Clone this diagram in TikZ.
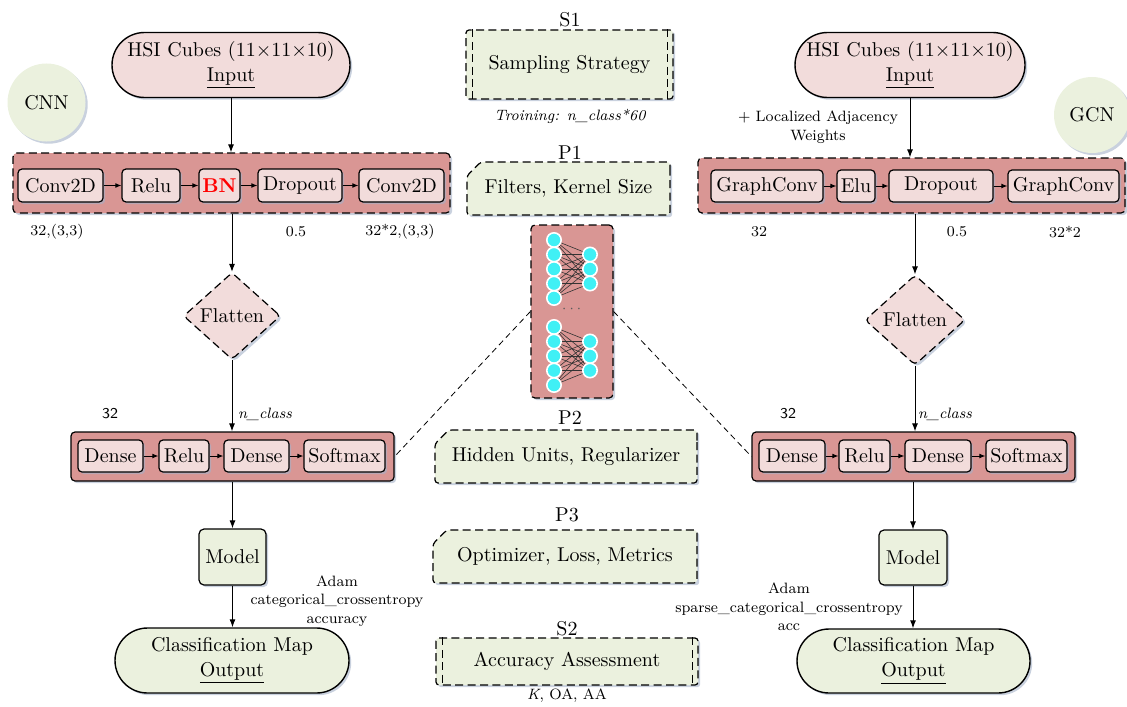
\documentclass[tikz,border=0pt]{standalone}
\usepackage{amsmath}
\usepackage{xcolor}
\usepackage{tikz}
\usetikzlibrary{
	arrows.meta,
	calc,
	positioning,
	shapes.geometric,
	shapes.misc,
	shadows
}
\definecolor{BoxPink}{RGB}{242,220,219}
\definecolor{RowRed}{RGB}{217,150,148}
\definecolor{PaleGreen}{RGB}{235,241,222}
\definecolor{NeuronCyan}{RGB}{64,240,245}
\definecolor{ShadowBlue}{RGB}{165,178,200}

\begin{document}
\begin{tikzpicture}[x=0.5pt, y=-0.5pt, font=\fontsize{10}{12.5}\selectfont,
	softshadow/.style={drop shadow={shadow xshift=1.1pt, shadow yshift=-1.1pt, fill=ShadowBlue, opacity=0.6}},
	dashpat/.style={dash pattern=on 4pt off 2.2pt, line width=0.6pt},
	terminal/.style={rounded rectangle, draw, line width=0.7pt, fill=BoxPink, align=center, inner sep=0pt, softshadow},
	layerbox/.style={draw, rounded corners=2pt, fill=BoxPink, line width=0.6pt, inner sep=0pt, minimum height=16.5pt, softshadow},
	rowbox/.style={draw, rounded corners=2pt, fill=RowRed, line width=0.6pt, inner sep=0pt, softshadow},
	dashrow/.style={rowbox, dashpat},
	procbox/.style={draw, dashpat, rounded corners=1.5pt, fill=PaleGreen, inner sep=0pt, softshadow},
	parambox/.style={chamfered rectangle, chamfered rectangle corners=north west, chamfered rectangle xsep=4pt, draw, dashpat, rounded corners=1.5pt, fill=PaleGreen, inner sep=0pt, softshadow},
	modelbox/.style={draw, rounded corners=2.5pt, fill=PaleGreen, line width=0.6pt, inner sep=0pt, softshadow},
	flat/.style={diamond, draw, dashpat, rounded corners=2pt, fill=BoxPink, inner sep=0pt, softshadow},
	netcircle/.style={circle, fill=PaleGreen, inner sep=0pt, minimum size=39pt, softshadow},
	neuron/.style={circle, fill=NeuronCyan, draw=white, line width=0.8pt, inner sep=0pt, minimum size=7.2pt},
	tag/.style={font=\fontsize{7.5}{9.25}\selectfont, align=center},
	tagit/.style={font=\fontsize{7.5}{9.25}\selectfont\itshape, align=center},
	tagsf/.style={font=\fontsize{7.5}{9.25}\selectfont\sffamily},
	link/.style={-{Latex[length=4pt,width=3pt]}, line width=0.5pt},
	smalllink/.style={-{Latex[length=3pt,width=2.4pt]}, line width=0.5pt}
]
	\useasboundingbox (0,0) rectangle (1127,706);

	% CNN branch
	\node[terminal, minimum width=119pt, minimum height=32.5pt] (inL) at (231,65) {HSI Cubes (11×11×10)\\\underline{Input}};
	\node[netcircle] (cnn) at (46.5,102.5) {CNN};
	\node[dashrow, minimum width=218.5pt, minimum height=30pt] (rowL) at (231.5,183) {};
	\node[layerbox, minimum width=42.5pt] (c1) at (60.5,185.5) {Conv2D};
	\node[layerbox, minimum width=29pt] (c2) at (151,185.5) {Relu};
	\node[layerbox, minimum width=20.5pt, text=red] (c3) at (219.5,185.5) {\textbf{BN}};
	\node[layerbox, minimum width=42pt] (c4) at (300,185.5) {Dropout};
	\node[layerbox, minimum width=42.5pt] (c5) at (401.5,185.5) {Conv2D};
	\foreach \a/\b in {c1/c2,c2/c3,c3/c4,c4/c5}
		\draw[smalllink] (\a) -- (\b);
	\node[tag] (kc1) at (57,232) {32,(3,3)};
	\node[tag] (kc4) at (296,232) {0.5};
	\node[tag] (kc5) at (400,232) {32*2,(3,3)};
	\draw[link] (inL.south) -- (inL.south |- rowL.north);

	\node[flat, minimum width=48.5pt, minimum height=43.5pt] (flL) at (232,316) {Flatten};
	\draw[link] (flL.north |- rowL.south) -- (flL.north);

	\node[rowbox, minimum width=161.5pt, minimum height=24.5pt] (dnL) at (232.5,456.5) {};
	\node[layerbox, minimum width=32.5pt, minimum height=16pt] (d1) at (110.5,456) {Dense};
	\node[layerbox, minimum width=25pt, minimum height=16pt] (d2) at (184,456) {Relu};
	\node[layerbox, minimum width=32.5pt, minimum height=16pt] (d3) at (256.5,456) {Dense};
	\node[layerbox, minimum width=40.5pt, minimum height=16pt] (d4) at (344.5,456) {Softmax};
	\foreach \a/\b in {d1/d2,d2/d3,d3/d4}
		\draw[smalllink] (\a) -- (\b);
	\node[tagsf] (kd1) at (110,414) {32};
	\node[tagit] (kd3) at (265,414) {n\_class};
	\draw[link] (flL.south) -- (flL.south |- dnL.north);

	\node[modelbox, minimum width=33.5pt, minimum height=28pt] (mdL) at (232.5,557) {Model};
	\node[terminal, minimum width=117pt, minimum height=32.5pt, fill=PaleGreen] (outL) at (232,660.5) {Classification Map\\\underline{Output}};
	\draw[link] (mdL.north |- dnL.south) -- (mdL.north);
	\draw[link] (mdL.south) -- (mdL.south |- outL.north);
	\node[tag] (cmpL) at (337,601) {Adam\\categorical\_crossentropy\\accuracy};

	% shared steps
	\node (s1lab) at (570,20) {S1};
	\node[procbox, minimum width=103.5pt, minimum height=34.5pt] (s1) at (569.5,64.5) {Sampling Strategy};
	\draw[dashpat] ($(s1.north west)+(3.5pt,0)$) -- ($(s1.south west)+(3.5pt,0)$);
	\draw[dashpat] ($(s1.north east)+(-3.2pt,0)$) -- ($(s1.south east)+(-3.2pt,0)$);
	\node[tagit] (s1note) at (570,116) {Troining: n\_class*60};

	\node (p1lab) at (570,153) {P1};
	\node[parambox, minimum width=101.5pt, minimum height=26.5pt] (p1) at (568.5,188.5) {Filters, Kernel Size};

	\node[dashrow, minimum width=41pt, minimum height=86.5pt] (nn) at (572,311.5) {};
	\foreach \i/\y in {1/240,2/254.5,3/269,4/283.5,5/298,6/327,7/341.5,8/356,9/370.5,10/385}
		\coordinate (na\i) at (554,\y);
	\foreach \j/\y in {1/254.5,2/269,3/283.5,4/341.5,5/356,6/370.5}
		\coordinate (nb\j) at (590,\y);
	\foreach \i in {1,...,5}
		\foreach \j in {1,2,3}
			\draw[line width=0.3pt, black!80] (na\i) -- (nb\j);
	\foreach \i in {6,...,10}
		\foreach \j in {4,5,6}
			\draw[line width=0.3pt, black!80] (na\i) -- (nb\j);
	\foreach \i in {1,...,10}
		\node[neuron] (ua\i) at (na\i) {};
	\foreach \j in {1,...,6}
		\node[neuron] (ub\j) at (nb\j) {};
	\node[font=\fontsize{7}{8}\selectfont, text=black!65] (gap) at (573,309) {$\cdots$};

	\node (p2lab) at (570,418) {P2};
	\node[parambox, minimum width=131pt, minimum height=26.5pt] (p2) at (566,456.5) {Hidden Units, Regularizer};
	\node (p3lab) at (567,515) {P3};
	\node[parambox, minimum width=132pt, minimum height=26.5pt] (p3) at (565,556.5) {Optimizer, Loss, Metrics};

	\node (s2lab) at (567,629) {S2};
	\node[procbox, minimum width=131pt, minimum height=23.5pt] (s2) at (567,661.5) {Accuracy Assessment};
	\draw[dashpat] ($(s2.north west)+(3.5pt,0)$) -- ($(s2.south west)+(3.5pt,0)$);
	\draw[dashpat] ($(s2.north east)+(-3.2pt,0)$) -- ($(s2.south east)+(-3.2pt,0)$);
	\node[tag] (s2note) at (567,696) {\textit{K}, OA, AA};

	% GCN branch
	\node[terminal, minimum width=115pt, minimum height=32.5pt] (inR) at (910,65) {HSI Cubes (11×11×10)\\\underline{Input}};
	\node[netcircle, minimum size=38pt] (gcn) at (1092,115) {GCN};
	\node[tag] (adj) at (818,127) {+ Localized Adjacency\\Weights};
	\node[dashrow, minimum width=213.5pt, minimum height=27.5pt] (rowR) at (911.5,185.5) {};
	\node[layerbox, minimum width=56pt, minimum height=16pt] (g1) at (767,186) {GraphConv};
	\node[layerbox, minimum width=19pt, minimum height=16pt] (g2) at (856,186) {Elu};
	\node[layerbox, minimum width=52pt, minimum height=16pt] (g3) at (941,186) {Dropout};
	\node[layerbox, minimum width=55.5pt, minimum height=16pt] (g4) at (1063.5,186) {GraphConv};
	\foreach \a/\b in {g1/g2,g2/g3,g3/g4}
		\draw[smalllink] (\a) -- (\b);
	\node[tag] (kg1) at (759,232) {32};
	\node[tag] (kg3) at (957,232) {0.5};
	\node[tag] (kg4) at (1065,232) {32*2};
	\draw[link] (inR.south) -- (inR.south |- rowR.north);

	\node[flat, minimum width=50pt, minimum height=45pt] (flR) at (915,320) {Flatten};
	\draw[link] (flR.north |- rowR.south) -- (flR.north);

	\node[rowbox, minimum width=161.5pt, minimum height=24.5pt] (dnR) at (913.5,456.5) {};
	\node[layerbox, minimum width=33pt, minimum height=16pt] (e1) at (792,456) {Dense};
	\node[layerbox, minimum width=25.5pt, minimum height=16pt] (e2) at (864.5,456) {Relu};
	\node[layerbox, minimum width=33pt, minimum height=16pt] (e3) at (938,456) {Dense};
	\node[layerbox, minimum width=40.5pt, minimum height=16pt] (e4) at (1026.5,456) {Softmax};
	\foreach \a/\b in {e1/e2,e2/e3,e3/e4}
		\draw[smalllink] (\a) -- (\b);
	\node[tagsf] (ke1) at (788,414) {32};
	\node[tagit] (ke3) at (945,414) {n\_class};
	\draw[link] (flR.south) -- (flR.south |- dnR.north);

	\node[modelbox, minimum width=34pt, minimum height=27.5pt] (mdR) at (913,557.5) {Model};
	\node[terminal, minimum width=116.5pt, minimum height=32pt, fill=PaleGreen] (outR) at (913.5,661) {Classification Map\\\underline{Output}};
	\draw[link] (mdR.north |- dnR.south) -- (mdR.north);
	\draw[link] (mdR.south) -- (mdR.south |- outR.north);
	\node[tag] (cmpR) at (789,607) {Adam\\sparse\_categorical\_crossentropy\\acc};

	% zoom lines from the hidden-unit panel
	\draw[dash pattern=on 3pt off 2pt, line width=0.4pt] (nn.west) -- (dnL.east);
	\draw[dash pattern=on 3pt off 2pt, line width=0.4pt] (nn.east) -- (dnR.west);
\end{tikzpicture}
\end{document}
